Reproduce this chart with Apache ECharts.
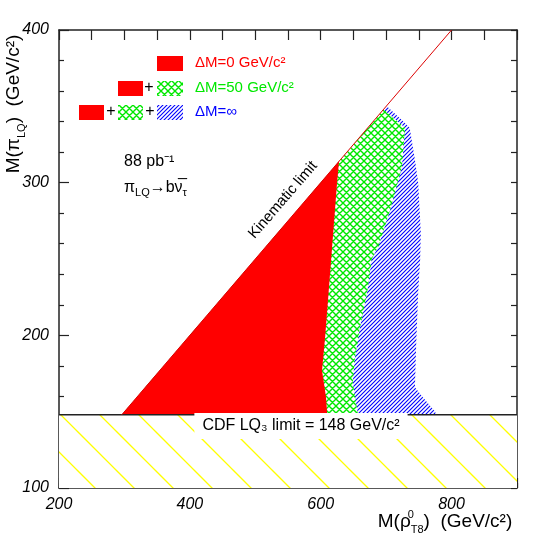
<!DOCTYPE html>
<html>
<head>
<meta charset="utf-8">
<script src="https://cdn.jsdelivr.net/npm/echarts@6/dist/echarts.min.js"></script>
<style>html,body{margin:0;padding:0;background:#fff}#main{width:545px;height:545px}</style>
</head>
<body>
<div id="main"></div>
<script>
// kinematic limit M(pi_LQ) = M(rho_T8)/2
var kinX = [296, 800];
var kinY = [148, 400];
// CDF LQ3 limit
var cdfX = [200, 900];
var cdfY = [148, 148];
var cdfBandX = [200, 900, 900, 200];
var cdfBandY = [148, 148, 100, 100];
// excluded regions
var redX = [296, 628, 625, 616, 607, 602, 608, 610];
var redY = [148, 314, 300, 250, 200, 177, 160, 148];
var greenX = [296, 696, 729, 724, 706, 688, 678, 671, 660, 652, 649, 657];
var greenY = [148, 348, 336, 310, 282, 258, 250, 228, 205, 184, 169, 148];
var blueX = [296, 701, 724, 736, 744, 749, 753, 752, 749, 746, 744, 757, 775, 776];
var blueY = [148, 350, 341, 336, 315, 300, 267, 250, 228, 195, 166, 159, 150, 148];
var xTicks = [200, 400, 600, 800];
var yTicks = [100, 200, 300, 400];

var FONT = 'Liberation Sans';
var AX = '#222';

// hatch patterns
function tile(size, color, lw, lines) {
    var c = document.createElement('canvas');
    c.width = size; c.height = size;
    var ctx = c.getContext('2d');
    ctx.fillStyle = '#fff';
    ctx.fillRect(0, 0, size, size);
    ctx.strokeStyle = color;
    ctx.lineWidth = lw;
    ctx.beginPath();
    lines(ctx, size);
    ctx.stroke();
    return {image: c, repeat: 'repeat'};
}
function down(ctx, s, c) { ctx.moveTo(-5, -5 - c); ctx.lineTo(s + 5, s + 5 - c); }   // x - y = c
function up(ctx, s, c) { ctx.moveTo(-5, c + 5); ctx.lineTo(s + 5, c - s - 5); }       // x + y = c

var bluePat = tile(4, '#0000ff', 1.1, function (ctx, s) { up(ctx, s, 0); up(ctx, s, 4); up(ctx, s, 8); });
var greenPat = tile(7, '#00e800', 1.4, function (ctx, s) {
    down(ctx, s, -7); down(ctx, s, 0); down(ctx, s, 7);
    up(ctx, s, 0); up(ctx, s, 7); up(ctx, s, 14);
});
var yellowPat = tile(39, '#ffff00', 1.3, function (ctx, s) { down(ctx, s, 36); down(ctx, s, -3); down(ctx, s, -42); });

function polygon(xs, ys, fill) {
    return {
        type: 'custom',
        silent: true,
        data: xs.map(function (x, i) { return [x, ys[i]]; }),
        renderItem: function (params, api) {
            if (params.dataIndex !== 0) return null;
            var pts = xs.map(function (x, i) { return api.coord([x, ys[i]]); });
            return {type: 'polygon', shape: {points: pts}, style: {fill: fill}};
        }
    };
}

var sub = {fontSize: 11, fontFamily: FONT, verticalAlign: 'bottom', lineHeight: 10};

var chart = echarts.init(document.getElementById('main'));
var option = {
    animation: false,
    grid: {left: 59, right: 28, top: 30, bottom: 57, outerBoundsMode: 'none'},
    xAxis: [
        {
            type: 'value', min: 200, max: 900, interval: 50, position: 'bottom',
            axisLine: {lineStyle: {color: AX, width: 1.5}},
            axisTick: {inside: true, length: 5, lineStyle: {color: AX, width: 1.2}},
            axisLabel: {
                margin: 9, color: '#000', fontSize: 16, fontStyle: 'italic', fontFamily: FONT,
                formatter: function (v) { return xTicks.indexOf(v) >= 0 ? String(v) : ''; }
            },
            splitLine: {show: false}
        },
        {
            type: 'value', min: 200, max: 900, interval: 200, position: 'bottom',
            axisLine: {show: false},
            axisTick: {inside: true, length: 10, lineStyle: {color: AX, width: 1.2}},
            axisLabel: {show: false},
            splitLine: {show: false}
        },
        {
            type: 'value', min: 200, max: 900, interval: 50, position: 'top',
            axisLine: {lineStyle: {color: AX, width: 1.5}},
            axisTick: {inside: true, length: 10, lineStyle: {color: AX, width: 1.2}},
            axisLabel: {show: false},
            splitLine: {show: false}
        }
    ],
    yAxis: [
        {
            type: 'value', min: 100, max: 400, interval: 100, position: 'left',
            axisLine: {lineStyle: {color: AX, width: 1.5}},
            axisTick: {inside: true, length: 10, lineStyle: {color: AX, width: 1.2}},
            minorTick: {show: true, splitNumber: 5, length: 5, lineStyle: {color: AX, width: 1.2}},
            axisLabel: {
                margin: 10, color: '#000', fontSize: 16, fontStyle: 'italic', fontFamily: FONT,
                formatter: function (v) { return yTicks.indexOf(v) >= 0 ? String(v) : ''; }
            },
            splitLine: {show: false}
        },
        {
            type: 'value', min: 100, max: 400, interval: 20, position: 'right',
            axisLine: {lineStyle: {color: AX, width: 1.5}},
            axisTick: {inside: true, length: 6, lineStyle: {color: AX, width: 1.2}},
            axisLabel: {show: false},
            splitLine: {show: false}
        }
    ],
    series: [
        polygon(cdfBandX, cdfBandY, yellowPat),
        polygon(blueX, blueY, bluePat),
        polygon(greenX, greenY, greenPat),
        polygon(redX, redY, '#ff0000'),
        {
            type: 'line', silent: true, symbol: 'none',
            data: cdfX.map(function (x, i) { return [x, cdfY[i]]; }),
            lineStyle: {color: AX, width: 1.5}
        },
        {
            type: 'line', silent: true, symbol: 'none',
            data: kinX.map(function (x, i) { return [x, kinY[i]]; }),
            lineStyle: {color: '#dd0000', width: 1}
        }
    ],
    graphic: [
        // legend
        {type: 'rect', shape: {x: 157, y: 56, width: 26, height: 15}, style: {fill: '#ff0000'}},
        {type: 'text', x: 195, y: 63, style: {text: 'ΔM=0 GeV/c²', fill: '#ff0000', font: '15px ' + FONT, verticalAlign: 'middle'}},
        {type: 'rect', shape: {x: 118, y: 81, width: 25, height: 15}, style: {fill: '#ff0000'}},
        {type: 'text', x: 149, y: 88, style: {text: '+', fill: '#000', font: '16px ' + FONT, align: 'center', verticalAlign: 'middle'}},
        {type: 'rect', shape: {x: 157, y: 81, width: 26, height: 15}, style: {fill: greenPat}},
        {type: 'text', x: 195, y: 88, style: {text: 'ΔM=50 GeV/c²', fill: '#00e800', font: '15px ' + FONT, verticalAlign: 'middle'}},
        {type: 'rect', shape: {x: 79, y: 105, width: 25, height: 15}, style: {fill: '#ff0000'}},
        {type: 'text', x: 111, y: 112, style: {text: '+', fill: '#000', font: '16px ' + FONT, align: 'center', verticalAlign: 'middle'}},
        {type: 'rect', shape: {x: 118, y: 105, width: 25, height: 15}, style: {fill: greenPat}},
        {type: 'text', x: 150, y: 112, style: {text: '+', fill: '#000', font: '16px ' + FONT, align: 'center', verticalAlign: 'middle'}},
        {type: 'rect', shape: {x: 157, y: 105, width: 26, height: 15}, style: {fill: bluePat}},
        {type: 'text', x: 195, y: 112, style: {text: 'ΔM=∞', fill: '#0000ff', font: '15px ' + FONT, verticalAlign: 'middle'}},
        // annotations
        {type: 'text', x: 124, y: 162, style: {text: '88 pb⁻¹', fill: '#000', font: '16px ' + FONT, verticalAlign: 'middle'}},
        {
            type: 'text', x: 124, y: 188,
            style: {
                text: '{m|π}{s|LQ}{m|→b}{m|ν̅}{s|τ}', verticalAlign: 'middle',
                rich: {m: {fontSize: 16, fontFamily: FONT, lineHeight: 20, verticalAlign: 'middle'}, s: sub}
            }
        },
        {type: 'text', x: 283, y: 200, rotation: 0.86, style: {text: 'Kinematic limit', fill: '#000', font: '15px ' + FONT, align: 'center', verticalAlign: 'middle'}},
        {
            type: 'text', x: 301, y: 426, z: 10,
            style: {
                text: 'CDF LQ₃ limit = 148 GeV/c²', fill: '#000', font: '16px ' + FONT,
                align: 'center', verticalAlign: 'middle', backgroundColor: '#fff', padding: [4, 8, 6, 8]
            }
        },
        // axis titles
        {
            type: 'text', x: 14, y: 104, rotation: Math.PI / 2,
            style: {
                text: '{m|M(π}{s|LQ}{m|)  (GeV/c²)}', align: 'center', verticalAlign: 'middle',
                rich: {m: {fontSize: 19, fontFamily: FONT, lineHeight: 26, verticalAlign: 'middle'}, s: sub}
            }
        },
        {
            type: 'text', x: 445, y: 522,
            style: {
                text: '{m|M(ρ}{p|0}{s|T8}{m|)  (GeV/c²)}', align: 'center', verticalAlign: 'middle',
                rich: {
                    m: {fontSize: 19, fontFamily: FONT, lineHeight: 26, verticalAlign: 'middle'},
                    p: {fontSize: 11, fontFamily: FONT, verticalAlign: 'top', lineHeight: 10, width: 0},
                    s: sub
                }
            }
        }
    ]
};
chart.setOption(option);
</script>
</body>
</html>
